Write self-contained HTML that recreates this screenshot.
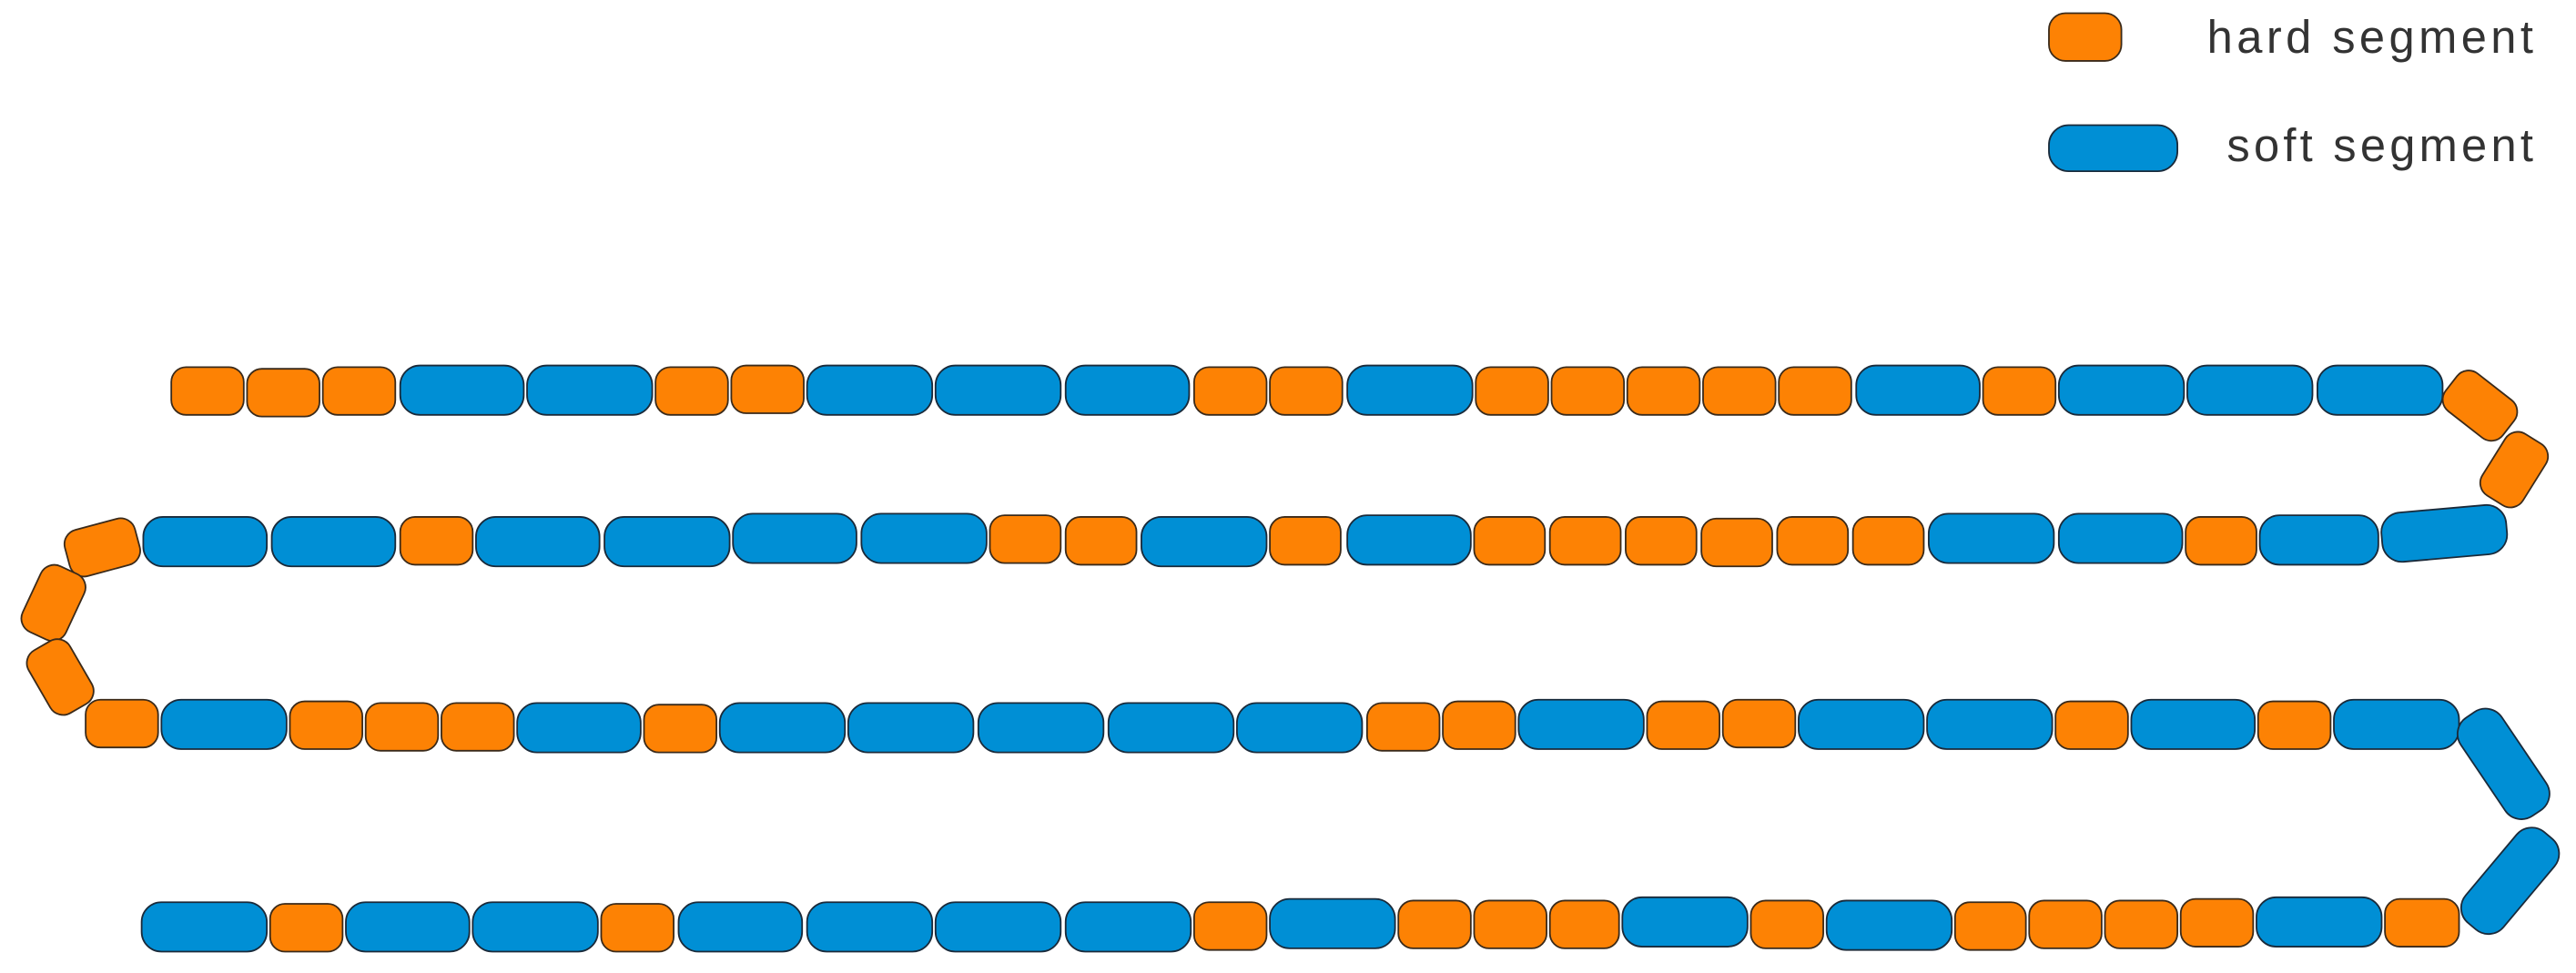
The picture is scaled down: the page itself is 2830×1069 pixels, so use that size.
<!DOCTYPE html>
<html><head><meta charset="utf-8"><style>html,body{margin:0;padding:0;background:#fff}svg{display:block}</style></head>
<body>
<svg width="2830" height="1069" viewBox="0 0 1564 591" preserveAspectRatio="none" xmlns="http://www.w3.org/2000/svg">
<style>.o{fill:#fd8204;stroke:#3a2a1a;stroke-width:1}.b{fill:#008fd5;stroke:#1a2a3a;stroke-width:1}text{font-family:"Liberation Sans",sans-serif;font-size:28px;fill:#333}</style>
<rect class="o" x="1244" y="8" width="44" height="29" rx="10"/>
<rect class="b" x="1244" y="76" width="78" height="28" rx="12"/>
<text x="1340" y="32" textLength="198" lengthAdjust="spacing">hard segment</text>
<text x="1352" y="98" textLength="186" lengthAdjust="spacing">soft segment</text>
<g id="r1">
<rect class="o" x="104" y="223" width="44" height="29" rx="9"/>
<rect class="o" x="150" y="224" width="44" height="29" rx="9"/>
<rect class="o" x="196" y="223" width="44" height="29" rx="9"/>
<rect class="b" x="243" y="222" width="75" height="30" rx="12"/>
<rect class="b" x="320" y="222" width="76" height="30" rx="12"/>
<rect class="o" x="398" y="223" width="44" height="29" rx="9"/>
<rect class="o" x="444" y="222" width="44" height="29" rx="9"/>
<rect class="b" x="490" y="222" width="76" height="30" rx="12"/>
<rect class="b" x="568" y="222" width="76" height="30" rx="12"/>
<rect class="b" x="647" y="222" width="75" height="30" rx="12"/>
<rect class="o" x="725" y="223" width="44" height="29" rx="9"/>
<rect class="o" x="771" y="223" width="44" height="29" rx="9"/>
<rect class="b" x="818" y="222" width="76" height="30" rx="12"/>
<rect class="o" x="896" y="223" width="44" height="29" rx="9"/>
<rect class="o" x="942" y="223" width="44" height="29" rx="9"/>
<rect class="o" x="988" y="223" width="44" height="29" rx="9"/>
<rect class="o" x="1034" y="223" width="44" height="29" rx="9"/>
<rect class="o" x="1080" y="223" width="44" height="29" rx="9"/>
<rect class="b" x="1127" y="222" width="75" height="30" rx="12"/>
<rect class="o" x="1204" y="223" width="44" height="29" rx="9"/>
<rect class="b" x="1250" y="222" width="76" height="30" rx="12"/>
<rect class="b" x="1328" y="222" width="76" height="30" rx="12"/>
<rect class="b" x="1407" y="222" width="76" height="30" rx="12"/>
<rect class="o" x="1484" y="232" width="44" height="29" rx="9" transform="rotate(38 1506 246)"/>
<rect class="o" x="1504" y="271" width="44" height="29" rx="9" transform="rotate(-58 1526 285)"/>
</g>
<g id="r2">
<rect class="b" x="1446" y="309" width="76" height="30" rx="12" transform="rotate(-5 1484 324)"/>
<rect class="b" x="1372" y="313" width="72" height="30" rx="12"/>
<rect class="o" x="1327" y="314" width="43" height="29" rx="9"/>
<rect class="b" x="1250" y="312" width="75" height="30" rx="12"/>
<rect class="b" x="1171" y="312" width="76" height="30" rx="12"/>
<rect class="o" x="1125" y="314" width="43" height="29" rx="9"/>
<rect class="o" x="1079" y="314" width="43" height="29" rx="9"/>
<rect class="o" x="1033" y="315" width="43" height="29" rx="9"/>
<rect class="o" x="987" y="314" width="43" height="29" rx="9"/>
<rect class="o" x="941" y="314" width="43" height="29" rx="9"/>
<rect class="o" x="895" y="314" width="43" height="29" rx="9"/>
<rect class="b" x="818" y="313" width="75" height="30" rx="12"/>
<rect class="o" x="771" y="314" width="43" height="29" rx="9"/>
<rect class="b" x="693" y="314" width="76" height="30" rx="12"/>
<rect class="o" x="647" y="314" width="43" height="29" rx="9"/>
<rect class="o" x="601" y="313" width="43" height="29" rx="9"/>
<rect class="b" x="523" y="312" width="76" height="30" rx="12"/>
<rect class="b" x="445" y="312" width="75" height="30" rx="12"/>
<rect class="b" x="367" y="314" width="76" height="30" rx="12"/>
<rect class="b" x="289" y="314" width="75" height="30" rx="12"/>
<rect class="o" x="243" y="314" width="44" height="29" rx="9"/>
<rect class="b" x="165" y="314" width="75" height="30" rx="12"/>
<rect class="b" x="87" y="314" width="75" height="30" rx="12"/>
<rect class="o" x="40" y="318" width="44" height="29" rx="9" transform="rotate(-15 62 332)"/>
<rect class="o" x="10" y="352" width="44" height="29" rx="9" transform="rotate(-65 32 366)"/>
<rect class="o" x="15" y="397" width="44" height="29" rx="9" transform="rotate(60 37 411)"/>
</g>
<g id="r3">
<rect class="o" x="52" y="425" width="44" height="29" rx="9"/>
<rect class="b" x="98" y="425" width="76" height="30" rx="12"/>
<rect class="o" x="176" y="426" width="44" height="29" rx="9"/>
<rect class="o" x="222" y="427" width="44" height="29" rx="9"/>
<rect class="o" x="268" y="427" width="44" height="29" rx="9"/>
<rect class="b" x="314" y="427" width="75" height="30" rx="12"/>
<rect class="o" x="391" y="428" width="44" height="29" rx="9"/>
<rect class="b" x="437" y="427" width="76" height="30" rx="12"/>
<rect class="b" x="515" y="427" width="76" height="30" rx="12"/>
<rect class="b" x="594" y="427" width="76" height="30" rx="12"/>
<rect class="b" x="673" y="427" width="76" height="30" rx="12"/>
<rect class="b" x="751" y="427" width="76" height="30" rx="12"/>
<rect class="o" x="830" y="427" width="44" height="29" rx="9"/>
<rect class="o" x="876" y="426" width="44" height="29" rx="9"/>
<rect class="b" x="922" y="425" width="76" height="30" rx="12"/>
<rect class="o" x="1000" y="426" width="44" height="29" rx="9"/>
<rect class="o" x="1046" y="425" width="44" height="29" rx="9"/>
<rect class="b" x="1092" y="425" width="76" height="30" rx="12"/>
<rect class="b" x="1170" y="425" width="76" height="30" rx="12"/>
<rect class="o" x="1248" y="426" width="44" height="29" rx="9"/>
<rect class="b" x="1294" y="425" width="75" height="30" rx="12"/>
<rect class="o" x="1371" y="426" width="44" height="29" rx="9"/>
<rect class="b" x="1417" y="425" width="76" height="30" rx="12"/>
<rect class="b" x="1484" y="449" width="72" height="30" rx="12" transform="rotate(56 1520 464)"/>
<rect class="b" x="1488" y="520" width="72" height="30" rx="12" transform="rotate(-50 1524 535)"/>
</g>
<g id="r4">
<rect class="b" x="86" y="548" width="76" height="30" rx="12"/>
<rect class="o" x="164" y="549" width="44" height="29" rx="9"/>
<rect class="b" x="210" y="548" width="75" height="30" rx="12"/>
<rect class="b" x="287" y="548" width="76" height="30" rx="12"/>
<rect class="o" x="365" y="549" width="44" height="29" rx="9"/>
<rect class="b" x="412" y="548" width="75" height="30" rx="12"/>
<rect class="b" x="490" y="548" width="76" height="30" rx="12"/>
<rect class="b" x="568" y="548" width="76" height="30" rx="12"/>
<rect class="b" x="647" y="548" width="76" height="30" rx="12"/>
<rect class="o" x="725" y="548" width="44" height="29" rx="9"/>
<rect class="b" x="771" y="546" width="76" height="30" rx="12"/>
<rect class="o" x="849" y="547" width="44" height="29" rx="9"/>
<rect class="o" x="895" y="547" width="44" height="29" rx="9"/>
<rect class="o" x="941" y="547" width="42" height="29" rx="9"/>
<rect class="b" x="985" y="545" width="76" height="30" rx="12"/>
<rect class="o" x="1063" y="547" width="44" height="29" rx="9"/>
<rect class="b" x="1109" y="547" width="76" height="30" rx="12"/>
<rect class="o" x="1187" y="548" width="43" height="29" rx="9"/>
<rect class="o" x="1232" y="547" width="44" height="29" rx="9"/>
<rect class="o" x="1278" y="547" width="44" height="29" rx="9"/>
<rect class="o" x="1324" y="546" width="44" height="29" rx="9"/>
<rect class="b" x="1370" y="545" width="76" height="30" rx="12"/>
<rect class="o" x="1448" y="546" width="45" height="29" rx="9"/>
</g>
</svg>
</body></html>
